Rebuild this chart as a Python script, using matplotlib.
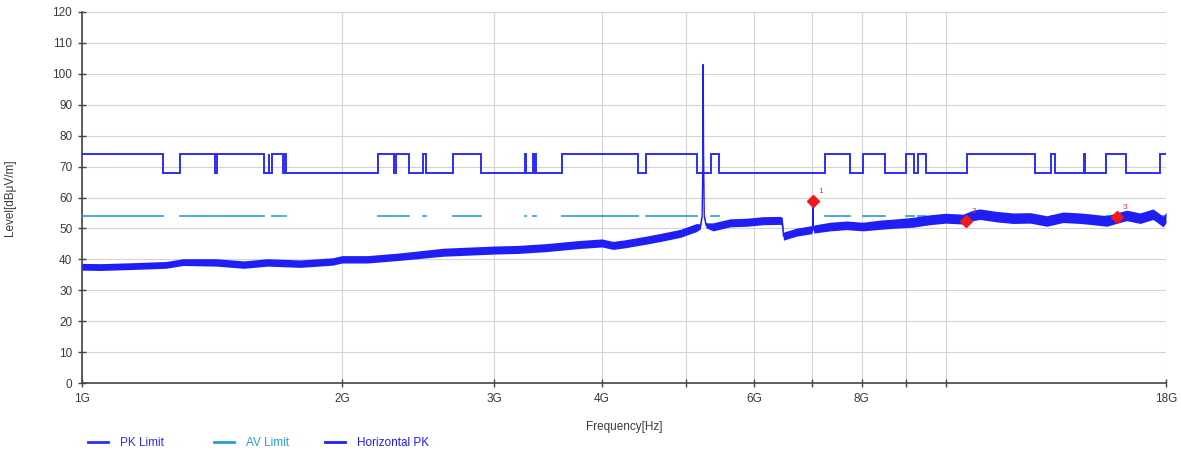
import numpy as np
import matplotlib
matplotlib.use("Agg")
import matplotlib.pyplot as plt
from matplotlib.lines import Line2D
from matplotlib.ticker import FixedLocator, FixedFormatter, NullLocator

plt.rcParams['font.family'] = ['Liberation Sans', 'DejaVu Sans']

# ---------------- data ----------------
# restricted bands (GHz) where PK limit = 74 and AV limit = 54, otherwise PK limit = 68
band_start = [1.0, 1.30, 1.435, 1.6455, 1.66, 1.7188, 2.20, 2.31, 2.4835, 2.69, 3.26, 3.332, 3.3458,
              3.60, 4.50, 5.35, 7.25, 8.025, 9.00, 9.30, 10.60, 13.25, 14.47, 15.35, 17.70]
band_end = [1.24, 1.427, 1.6265, 1.6465, 1.71, 1.7222, 2.30, 2.39, 2.50, 2.90, 3.267, 3.339, 3.358,
            4.40, 5.15, 5.46, 7.75, 8.50, 9.20, 9.50, 12.70, 13.40, 14.50, 16.20, 18.0]
pk_high = 74
pk_low = 68
av_level = 54

# Horizontal PK trace (GHz, dBuV/m)
trace_freq = [1.0, 1.05, 1.14, 1.25, 1.31, 1.43, 1.54, 1.64, 1.79, 1.95, 2.0, 2.14, 2.34, 2.62,
              3.0, 3.2, 3.45, 3.77, 4.0, 4.12, 4.25, 4.5, 4.7, 4.93, 5.15, 5.20, 5.225, 5.235,
              5.24, 5.245, 5.255, 5.28, 5.38, 5.63, 5.89, 6.15, 6.43, 6.47, 6.49, 6.72, 7.0,
              7.015, 7.02, 7.025, 7.04, 7.35, 7.68, 8.02, 8.4, 8.78, 9.17, 9.59, 10.0, 10.48,
              10.76, 10.96, 11.46, 11.97, 12.53, 13.1, 13.68, 14.31, 14.7, 15.37, 15.81, 16.21,
              16.8, 17.39, 17.86, 18.0]
trace_level = [37.6, 37.5, 37.8, 38.2, 39.1, 39.0, 38.3, 39.0, 38.6, 39.3, 40.0, 40.0, 40.9, 42.3,
               43.0, 43.2, 43.8, 44.8, 45.3, 44.5, 45.0, 46.2, 47.2, 48.4, 50.3, 50.6, 54.0, 70.0,
               103.0, 75.0, 54.0, 51.0, 50.5, 51.8, 52.0, 52.5, 52.6, 52.3, 47.5, 48.8, 49.6,
               49.8, 58.8, 49.8, 49.8, 50.6, 51.0, 50.6, 51.2, 51.6, 52.0, 52.8, 53.3, 53.0,
               54.2, 54.6, 53.8, 53.3, 53.4, 52.4, 53.6, 53.3, 53.0, 52.4, 53.4, 54.2,
               53.3, 54.6, 52.2, 53.5]
trace_spread = [1.1, 1.1, 1.1, 1.1, 1.1, 1.2, 1.2, 1.2, 1.2, 1.2, 1.2, 1.2, 1.2, 1.3,
                1.3, 1.3, 1.3, 1.3, 1.3, 1.3, 1.3, 1.3, 1.3, 1.3, 1.3, 0.8, 0.3, 0.0,
                0.0, 0.0, 0.3, 0.8, 1.3, 1.3, 1.3, 1.3, 1.3, 1.3, 1.3, 1.3, 1.3,
                0.3, 0.0, 0.3, 1.3, 1.4, 1.4, 1.4, 1.5, 1.5, 1.6, 1.6, 1.6, 1.6,
                1.7, 1.7, 1.7, 1.7, 1.7, 1.7, 1.7, 1.7, 1.7, 1.7, 1.7, 1.7,
                1.7, 1.7, 1.7, 1.7]

marker_freq = [7.02, 10.56, 15.81]
marker_level = [58.8, 52.3, 53.6]
marker_names = ["1", "2", "3"]

xtick_vals = [1, 2, 3, 4, 5, 6, 7, 8, 9, 10, 18]
xtick_labels = ["1G", "2G", "3G", "4G", "", "6G", "", "8G", "", "", "18G"]
ytick_vals = list(range(0, 121, 10))

# ---------------- styles ----------------
PK_COLOR = "#2d2dfa"
AV_COLOR = "#2a9bd2"
TR_COLOR = "#1f1ff5"
TXT = "#3a3a3a"

fig = plt.figure(figsize=(11.81, 4.55), dpi=100)
ax = fig.add_axes([82/1181, 1-383/455, (1166-82)/1181, (383-12)/455])

# PK limit step line built from the band edges
xs, ys = [], []
prev_end = None
for s, e in zip(band_start, band_end):
    if prev_end is not None:
        xs += [prev_end, prev_end, s, s]
        ys += [pk_high, pk_low, pk_low, pk_high]
    else:
        xs += [s]
        ys += [pk_high]
    prev_end = e
xs += [prev_end]
ys += [pk_high]
ax.plot(xs, ys, color=PK_COLOR, lw=1.4, zorder=3, solid_joinstyle='miter')

# AV limit segments (restricted bands only)
for s, e in zip(band_start, band_end):
    ax.plot([s, e], [av_level, av_level], color=AV_COLOR, lw=1.2, zorder=3)

# trace
tf = np.array(trace_freq)
tl = np.array(trace_level)
ts = np.array(trace_spread)
ax.fill_between(tf, tl - ts, tl + ts, color=TR_COLOR, lw=0, zorder=4)
ax.plot(tf, tl, color=TR_COLOR, lw=1.0, zorder=4)

# markers
ax.plot(marker_freq, marker_level, linestyle='none', marker='D', ms=6.5,
        color='#f01818', zorder=6)
for f, v, n in zip(marker_freq, marker_level, marker_names):
    ax.annotate(n, (f, v), xytext=(4, 6), textcoords='offset points',
                color='#f03030', fontsize=6, zorder=7)

ax.set_xscale('log')
ax.set_xlim(1, 18)
ax.set_ylim(0, 120)
ax.xaxis.set_major_locator(FixedLocator(xtick_vals))
ax.xaxis.set_major_formatter(FixedFormatter(xtick_labels))
ax.xaxis.set_minor_locator(NullLocator())
ax.set_yticks(ytick_vals)
ax.tick_params(axis='both', direction='inout', length=6, width=1.0, color='#444444',
               labelsize=8.5, labelcolor=TXT, pad=4)
ax.grid(True, color='#d4d4d4', lw=0.8, zorder=0)
ax.set_axisbelow(True)
for side in ['top', 'right']:
    ax.spines[side].set_visible(False)
for side in ['left', 'bottom']:
    ax.spines[side].set_color('#444444')
    ax.spines[side].set_linewidth(1.2)

ax.set_xlabel("Frequency[Hz]", fontsize=8.5, color=TXT, labelpad=12)
ax.set_ylabel("Level[dBμV/m]", fontsize=8.5, color=TXT, labelpad=26)

# legend entries
entries = [("PK Limit", PK_COLOR, 93), ("AV Limit", AV_COLOR, 219), ("Horizontal PK", TR_COLOR, 330)]
for lab, col, px in entries:
    fig.legend([Line2D([], [], color=col, lw=2)], [lab], loc='center left',
               bbox_to_anchor=(px/1181 - 0.004, 12/455), frameon=False,
               fontsize=8.5, handlelength=1.7, handletextpad=1.0, labelcolor=col,
               borderaxespad=0, borderpad=0)

fig.savefig("out.png", dpi=100)
